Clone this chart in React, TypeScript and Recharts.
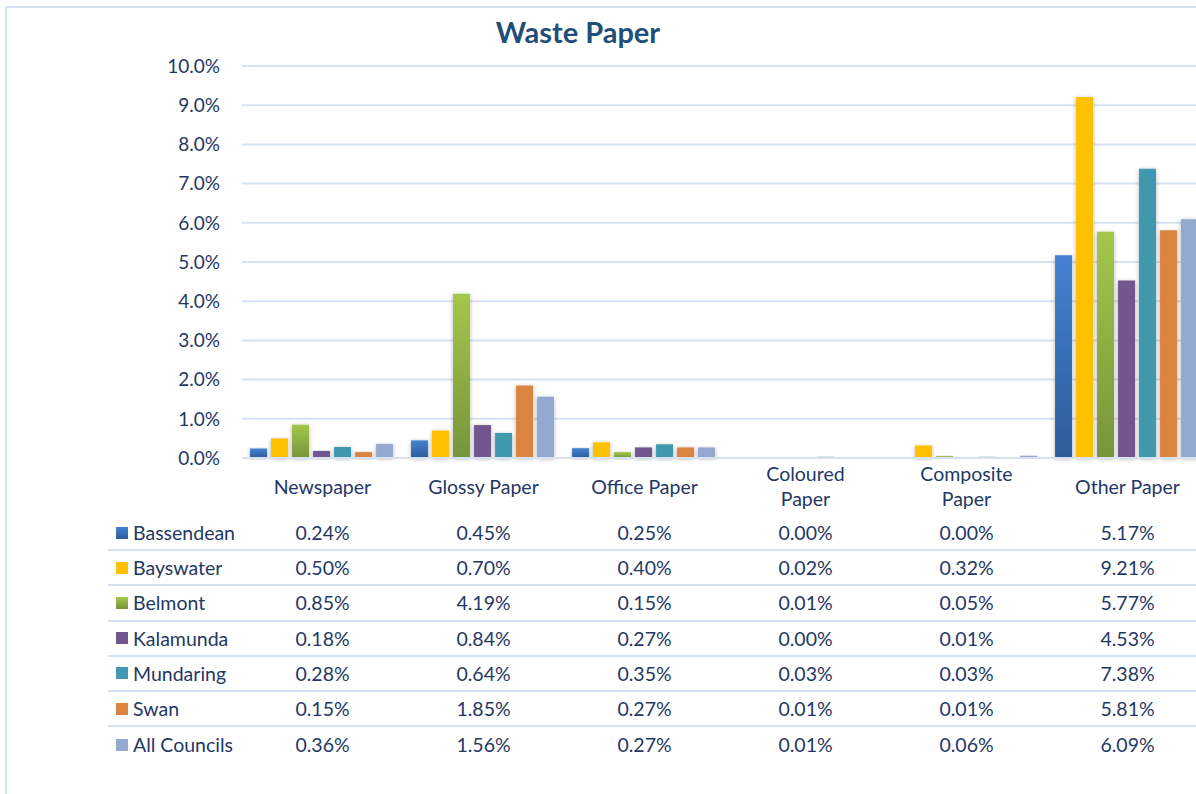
import React from 'react';
import { BarChart, Bar, XAxis, YAxis, CartesianGrid } from 'recharts';

const categories = ['Newspaper', 'Glossy Paper', 'Office Paper', 'Coloured Paper', 'Composite Paper', 'Other Paper'];

const councils = ['Bassendean', 'Bayswater', 'Belmont', 'Kalamunda', 'Mundaring', 'Swan', 'All Councils'];

const bassendean = [0.24, 0.45, 0.25, 0.0, 0.0, 5.17];
const bayswater = [0.5, 0.7, 0.4, 0.02, 0.32, 9.21];
const belmont = [0.85, 4.19, 0.15, 0.01, 0.05, 5.77];
const kalamunda = [0.18, 0.84, 0.27, 0.0, 0.01, 4.53];
const mundaring = [0.28, 0.64, 0.35, 0.03, 0.03, 7.38];
const swan = [0.15, 1.85, 0.27, 0.01, 0.01, 5.81];
const allCouncils = [0.36, 1.56, 0.27, 0.01, 0.06, 6.09];

const yTicks = [0, 1, 2, 3, 4, 5, 6, 7, 8, 9, 10];

const seriesValues = [bassendean, bayswater, belmont, kalamunda, mundaring, swan, allCouncils];
const fills = ['url(#gBlue)', '#FFC000', 'url(#gGreen)', '#72578F', '#4198AF', '#DB843F', '#93A9CF'];
const swatches = [
  'linear-gradient(#4582D2, #2C5C99)',
  '#FFC000',
  'linear-gradient(#A3C74C, #779439)',
  '#72578F',
  '#4198AF',
  '#DB843F',
  '#93A9CF',
];

const data = categories.map((c, i) => {
  const row: Record<string, number | string> = { name: c };
  councils.forEach((k, j) => {
    row[k] = seriesValues[j][i];
  });
  return row;
});

const FONT = 'Lato, "Open Sans", sans-serif';
const TEXT = '#1F3864';
const LINE = '#D6E2F1';

const CategoryTick = (props: any) => {
  const { x, y, payload } = props;
  const words: string[] = payload.value.split(' ');
  const lines = payload.value === 'Coloured Paper' || payload.value === 'Composite Paper'
    ? [words[0], words[1]]
    : [payload.value];
  const startY = lines.length === 1 ? y + 28 : y + 15;
  return (
    <text x={x} y={startY} textAnchor="middle" fill={TEXT} fontSize={19.5} fontFamily={FONT}>
      {lines.map((l, i) => (
        <tspan key={i} x={x} dy={i === 0 ? 0 : 25}>{l}</tspan>
      ))}
    </text>
  );
};

export default function App() {
  return (
    <div style={{ position: 'absolute', left: 0, top: 0, width: 1196, height: 794, overflow: 'hidden', background: '#fff' }}>
      <div style={{ position: 'absolute', left: 5, top: 6, width: 1240, height: 820, border: `2px solid ${LINE}`, boxSizing: 'border-box' }} />
      <div style={{ position: 'absolute', left: 0, top: 14, width: 1156, textAlign: 'center', fontFamily: FONT, fontWeight: 700, fontSize: 29, color: '#1F4E79' }}>
        Waste Paper
      </div>
      <div style={{ position: 'absolute', left: 0, top: 0 }}>
        <BarChart
          width={1212}
          height={520}
          data={data}
          margin={{ top: 66, right: 4, left: 0, bottom: 0 }}
          barCategoryGap="5%"
          barGap={4}
        >
          <defs>
            <linearGradient id="gBlue" x1="0" y1="0" x2="0" y2="1">
              <stop offset="0%" stopColor="#4582D2" />
              <stop offset="100%" stopColor="#2C5C99" />
            </linearGradient>
            <linearGradient id="gGreen" x1="0" y1="0" x2="0" y2="1">
              <stop offset="0%" stopColor="#A3C74C" />
              <stop offset="100%" stopColor="#779439" />
            </linearGradient>
            <filter id="sh" x="-30%" y="-10%" width="160%" height="130%">
              <feDropShadow dx="0" dy="1" stdDeviation="2" floodColor="#000" floodOpacity="0.3" />
            </filter>
          </defs>
          <CartesianGrid vertical={false} stroke={LINE} strokeWidth={2} />
          <XAxis
            dataKey="name"
            height={62}
            axisLine={{ stroke: LINE, strokeWidth: 2 }}
            tickLine={false}
            tick={<CategoryTick />}
            interval={0}
          />
          <YAxis
            width={242}
            domain={[0, 10]}
            ticks={yTicks}
            axisLine={false}
            tickLine={false}
            tickSize={0}
            tickMargin={22}
            tickFormatter={(v: number) => v.toFixed(1) + '%'}
            tick={{ fill: TEXT, fontSize: 19, fontFamily: FONT }}
          />
          {councils.map((k, j) => (
            <Bar key={k} dataKey={k} fill={fills[j]} filter="url(#sh)" isAnimationActive={false} />
          ))}
        </BarChart>
      </div>
      <div style={{ position: 'absolute', left: 108, top: 516, width: 1100, fontFamily: FONT, fontSize: 19.5, color: TEXT }}>
        {councils.map((k, j) => (
          <div
            key={k}
            style={{
              display: 'flex',
              alignItems: 'center',
              height: 35.2,
              boxSizing: 'border-box',
              borderBottom: j < councils.length - 1 ? `2px solid ${LINE}` : 'none',
            }}
          >
            <div style={{ width: 134, display: 'flex', alignItems: 'center', whiteSpace: 'nowrap' }}>
              <span style={{ display: 'inline-block', flexShrink: 0, width: 12, height: 12, marginLeft: 8, marginRight: 5, background: swatches[j] }} />
              <span>{k}</span>
            </div>
            {seriesValues[j].map((v, i) => (
              <div key={i} style={{ width: 161, textAlign: 'center' }}>{v.toFixed(2)}%</div>
            ))}
          </div>
        ))}
      </div>
    </div>
  );
}
